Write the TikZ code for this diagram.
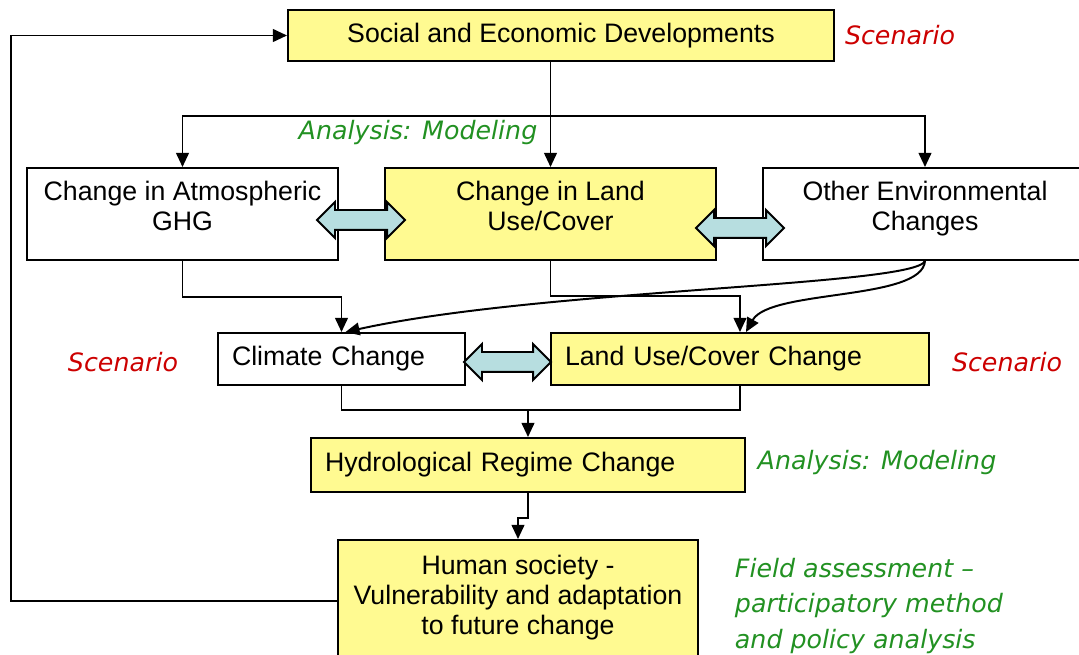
\documentclass[tikz,border=0pt]{standalone}
\usepackage{fontspec}
\setmainfont{Liberation Sans}
\newfontfamily\notefont{DejaVu Sans}
\usetikzlibrary{arrows.meta,shapes.arrows,positioning}

\definecolor{boxyellow}{RGB}{255,250,145}
\definecolor{arrowblue}{RGB}{183,222,224}
\definecolor{notegreen}{RGB}{34,145,34}
\definecolor{notered}{RGB}{204,0,0}

\begin{document}
\begin{tikzpicture}

  % Definitions
  \tikzstyle{plain} = [rectangle, draw=black, line width=1.4pt, fill=white, align=center, font=\fontsize{19}{21.5}\selectfont]
  \tikzstyle{focus} = [plain, fill=boxyellow]
  \tikzstyle{twoline} = [text height=28pt, text depth=4.5pt]
  \tikzstyle{dbl} = [double arrow, draw=black, line width=1.4pt, fill=arrowblue, minimum height=2.2cm, minimum width=0.85cm, double arrow head extend=0.2cm, inner xsep=0pt, inner ysep=0.225cm]
  \tikzstyle{note} = [font={\notefont\itshape\fontsize{18}{25}\selectfont}]
  \tikzstyle{arrow} = [line width=1.4pt,-{Triangle[length=10pt,width=9pt]}]

  \useasboundingbox (0,0) rectangle (26.975,-16.375);
  \clip (0,0) rectangle (26.975,-16.375);

  \node (social) [focus, minimum width=13.65cm, minimum height=1.275cm] at (14.025,-0.8875) {Social and Economic Developments};
  \node (land) [focus, twoline, below of=social, xshift=-0.2625cm, yshift=-3.4625cm, minimum width=8.275cm, minimum height=2.3cm] {Change in Land\\Use/Cover};
  \node (atm) [plain, twoline, left of=land, xshift=-8.2cm, minimum width=7.775cm, minimum height=2.3cm] {Change in Atmospheric\\GHG};
  \node (other) [plain, twoline, right of=land, xshift=8.3625cm, minimum width=8.1cm, minimum height=2.3cm] {Other Environmental\\Changes};
  \node (climate) [plain, below of=atm, xshift=3.975cm, yshift=-2.625cm, inner xsep=0.35cm, text width=5.475cm, align=left, minimum height=1.3cm] {Climate Change};
  \node (landuse) [focus, right of=climate, xshift=8.9625cm, inner xsep=0.35cm, text width=8.75cm, align=left, minimum height=1.3cm] {Land Use/Cover Change};
  \node (hydro) [focus, below of=land, xshift=-0.5625cm, yshift=-5.275cm, inner xsep=0.35cm, text width=10.15cm, align=left, minimum height=1.35cm] {Hydrological Regime Change};
  \node (human) [focus, below of=hydro, xshift=-0.25cm, yshift=-2.4cm, minimum width=9cm, minimum height=3.05cm, text height=52pt, text depth=4.3pt] {Human society -\\Vulnerability and adaptation\\to future change};

  \node (dblA) [dbl, right of=atm, xshift=3.4625cm, yshift=-0.15cm] {};
  \node (dblB) [dbl, right of=land, xshift=3.7375cm, yshift=-0.35cm] {};
  \node (dblC) [dbl, right of=climate, xshift=3.15cm, yshift=-0.075cm, minimum height=2.175cm] {};

  \node (scenTop) [note, text=notered, right of=social, xshift=7.475cm] {Scenario};
  \node (anaTop) [note, text=notegreen, below of=social, xshift=-3.575cm, yshift=-1.4375cm] {Analysis: Modeling};
  \node (scenLeft) [note, text=notered, left of=climate, xshift=-4.4625cm, yshift=-0.075cm] {Scenario};
  \node (scenRight) [note, text=notered, right of=landuse, xshift=5.675cm, yshift=-0.075cm] {Scenario};
  \node (anaLow) [note, text=notegreen, right of=hydro, xshift=7.725cm, yshift=0.05cm] {Analysis: Modeling};
  \node (field) [note, text=notegreen, align=left, anchor=west] at (18.25,-15.15) {Field assessment –\\participatory method\\and policy analysis};

  \coordinate (split) at ([yshift=1.275cm]land.north);
  \coordinate (merge) at ([yshift=0.675cm]hydro.north);

  \draw [arrow] (land.north |- social.south) -- (land.north);
  \draw [arrow] (split) -| (atm.north);
  \draw [arrow] (split) -| (other.north);
  \draw [arrow] (atm.south) -- ++(0,-0.9) -| (climate.north);
  \draw [arrow] (land.south) -- ++(0,-0.875) -| (landuse.north);
  \draw [arrow] (other.south) .. controls +(-0.25,-0.625) and +(4.8625,1.075) .. ([xshift=0.1cm]climate.north);
  \draw [arrow] (other.south) .. controls +(-0.075,-1.0) and +(0.6,1.075) .. ([xshift=0.15cm]landuse.north);
  \draw [line width=1.4pt] (climate.south) |- (merge) -| (landuse.south);
  \draw [arrow] (merge) -- (hydro.north);
  \draw [arrow] (hydro.south) -- ++(0,-0.625) -| (human.north);
  \draw [arrow] (human.west) -- ++(-8.15,0) |- (social.west);

\end{tikzpicture}
\end{document}
